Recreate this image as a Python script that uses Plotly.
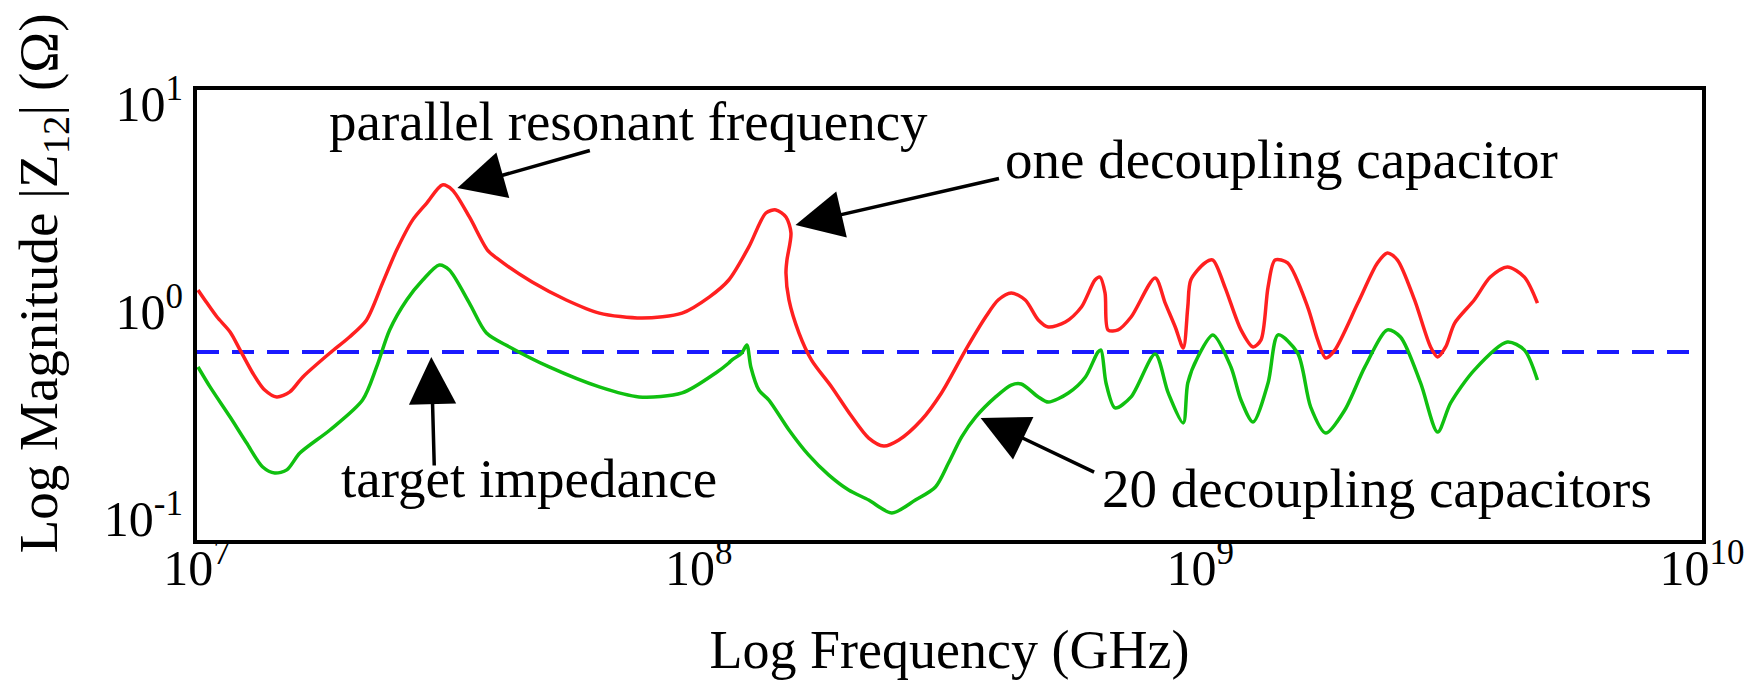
import numpy as np
import plotly.graph_objects as go

# ---- data (log10 of frequency in Hz, log10 of |Z12| in Ohm) ----
one_cap_logf = [7.002, 7.020, 7.040, 7.066, 7.086, 7.111, 7.135, 7.159, 7.185, 7.211,
                7.265, 7.304, 7.338, 7.370, 7.398, 7.430, 7.458, 7.489, 7.509, 7.543,
                7.579, 7.597, 7.668, 7.736, 7.802, 7.887, 7.967, 8.021, 8.060, 8.100,
                8.134, 8.154, 8.174, 8.184, 8.176, 8.174, 8.180, 8.200, 8.225, 8.265,
                8.303, 8.339, 8.369, 8.399, 8.444, 8.484, 8.532, 8.572, 8.597, 8.623,
                8.651, 8.677, 8.697, 8.731, 8.763, 8.790, 8.800, 8.810, 8.816, 8.836,
                8.862, 8.910, 8.930, 8.950, 8.966, 8.975, 8.981, 9.009, 9.025, 9.049,
                9.081, 9.105, 9.121, 9.135, 9.149, 9.174, 9.214, 9.234, 9.250, 9.268,
                9.314, 9.353, 9.373, 9.393, 9.427, 9.459, 9.473, 9.489, 9.507, 9.546,
                9.578, 9.612, 9.646, 9.672]
one_cap_logz = [0.101, 0.038, -0.029, -0.101, -0.188, -0.298, -0.380, -0.413, -0.389, -0.317,
                -0.202, -0.125, -0.043, 0.135, 0.293, 0.438, 0.519, 0.606, 0.582, 0.452,
                0.293, 0.255, 0.139, 0.053, -0.010, -0.034, -0.010, 0.067, 0.149, 0.308,
                0.471, 0.486, 0.452, 0.375, 0.245, 0.183, 0.053, -0.106, -0.236, -0.365,
                -0.500, -0.611, -0.649, -0.620, -0.524, -0.394, -0.188, -0.029, 0.053, 0.087,
                0.053, -0.043, -0.077, -0.053, 0.019, 0.149, 0.163, 0.087, -0.091, -0.091,
                -0.029, 0.159, 0.038, -0.077, -0.178, 0.019, 0.149, 0.231, 0.245, 0.115,
                -0.091, -0.173, -0.139, 0.115, 0.245, 0.231, 0.019, -0.139, -0.226, -0.188,
                0.038, 0.231, 0.279, 0.245, 0.053, -0.173, -0.221, -0.173, -0.058, 0.053,
                0.163, 0.212, 0.163, 0.038]

twenty_cap_logf = [7.002, 7.026, 7.066, 7.099, 7.131, 7.155, 7.179, 7.205, 7.265, 7.330,
                   7.358, 7.384, 7.418, 7.450, 7.483, 7.503, 7.543, 7.577, 7.623, 7.702,
                   7.802, 7.881, 7.967, 8.034, 8.060, 8.066, 8.086, 8.096, 8.104, 8.120,
                   8.140, 8.180, 8.219, 8.259, 8.299, 8.339, 8.385, 8.432, 8.472, 8.498,
                   8.524, 8.552, 8.592, 8.623, 8.643, 8.677, 8.697, 8.737, 8.771, 8.796,
                   8.802, 8.812, 8.830, 8.862, 8.910, 8.936, 8.966, 8.975, 8.995, 9.025,
                   9.061, 9.081, 9.105, 9.135, 9.155, 9.194, 9.220, 9.250, 9.288, 9.328,
                   9.373, 9.399, 9.439, 9.473, 9.499, 9.546, 9.612, 9.646, 9.672]
twenty_cap_logz = [-0.269, -0.365, -0.510, -0.635, -0.750, -0.779, -0.764, -0.683, -0.572, -0.428,
                   -0.269, -0.091, 0.053, 0.149, 0.221, 0.197, 0.038, -0.106, -0.173, -0.269,
                   -0.365, -0.413, -0.394, -0.298, -0.250, -0.236, -0.202, -0.163, -0.269, -0.380,
                   -0.428, -0.572, -0.692, -0.788, -0.861, -0.909, -0.971, -0.909, -0.846, -0.731,
                   -0.606, -0.510, -0.413, -0.356, -0.351, -0.413, -0.438, -0.394, -0.317, -0.197,
                   -0.188, -0.346, -0.466, -0.413, -0.207, -0.394, -0.538, -0.346, -0.221, -0.115,
                   -0.269, -0.428, -0.534, -0.346, -0.115, -0.202, -0.462, -0.587, -0.476, -0.269,
                   -0.091, -0.125, -0.346, -0.582, -0.442, -0.284, -0.149, -0.188, -0.332]

target_logz = -0.197            # target impedance
x_range_log = [7, 10]
y_range_log = [-1.101, 1.0625]
x_tick_exp = [7, 8, 9, 10]
y_tick_exp = [-1, 0, 1]

FONT = "Liberation Serif"

fig = go.Figure()
fig.add_trace(go.Scatter(
    x=10 ** np.array(x_range_log, dtype=float), y=[10 ** target_logz] * 2,
    mode="lines", line=dict(color="#1a1aff", width=4, dash="22px,13px"),
    name="target impedance", showlegend=False, hoverinfo="skip"))
fig.add_trace(go.Scatter(
    x=10 ** np.array(one_cap_logf), y=10 ** np.array(one_cap_logz),
    mode="lines", line=dict(color="#ff2020", width=3.5, shape="spline", smoothing=0.8),
    name="one decoupling capacitor", showlegend=False))
fig.add_trace(go.Scatter(
    x=10 ** np.array(twenty_cap_logf), y=10 ** np.array(twenty_cap_logz),
    mode="lines", line=dict(color="#10c010", width=3.5, shape="spline", smoothing=0.8),
    name="20 decoupling capacitors", showlegend=False))

# text labels (positions in log10 data units)
labels = [
    ("parallel resonant frequency", 7.861, 0.909),
    ("one decoupling capacitor", 9.161, 0.729),
    ("target impedance", 7.662, -0.805),
    ("20 decoupling capacitors", 9.352, -0.853),
]
# arrows: tip (log10 units) and tail offset in px
arrows = [
    (7.519, 0.591, 134, -38),
    (8.193, 0.413, 205, -47),
    (7.467, -0.221, 3, 110),
    (8.562, -0.514, 115, 55),
]
annotations = []
for txt, x, y in labels:
    annotations.append(dict(text=txt, x=x, y=y, xref="x", yref="y", showarrow=False,
                            xanchor="center", yanchor="middle",
                            font=dict(family=FONT, size=55, color="black")))
for x, y, ax, ay in arrows:
    annotations.append(dict(text="", x=x, y=y, xref="x", yref="y", showarrow=True,
                            ax=ax, ay=ay, arrowhead=2, arrowsize=2.7, arrowwidth=3.5,
                            arrowcolor="black"))
annotations.append(dict(text="Log Magnitude |Z<sub>12</sub>| (Ω)",
                        x=(42 - 197) / 1508, y=(540 - 283) / 450,
                        xref="paper", yref="paper", showarrow=False, textangle=-90,
                        xanchor="center", yanchor="middle",
                        font=dict(family=FONT, size=55, color="black")))

fig.update_layout(
    width=1757, height=695,
    margin=dict(l=197, r=52, t=90, b=155),
    paper_bgcolor="white", plot_bgcolor="white",
    font=dict(family=FONT, size=50, color="black"),
    annotations=annotations,
    xaxis=dict(type="log", range=x_range_log, showgrid=False, zeroline=False,
               showline=True, mirror=True, linecolor="black", linewidth=4,
               ticks="", tickvals=[10 ** e for e in x_tick_exp],
               ticktext=[f"10<sup>{e}</sup>" for e in x_tick_exp],
               tickfont=dict(family=FONT, size=50), ticklabelstandoff=-19,
               title=dict(text="Log Frequency (GHz)", font=dict(family=FONT, size=54),
                          standoff=36)),
    yaxis=dict(type="log", range=y_range_log, showgrid=False, zeroline=False,
               showline=True, mirror=True, linecolor="black", linewidth=4,
               ticks="", tickvals=[10 ** e for e in y_tick_exp],
               ticktext=[f"10<sup>{e}</sup>" for e in y_tick_exp],
               tickfont=dict(family=FONT, size=50)),
)

fig.write_html("out.html")
